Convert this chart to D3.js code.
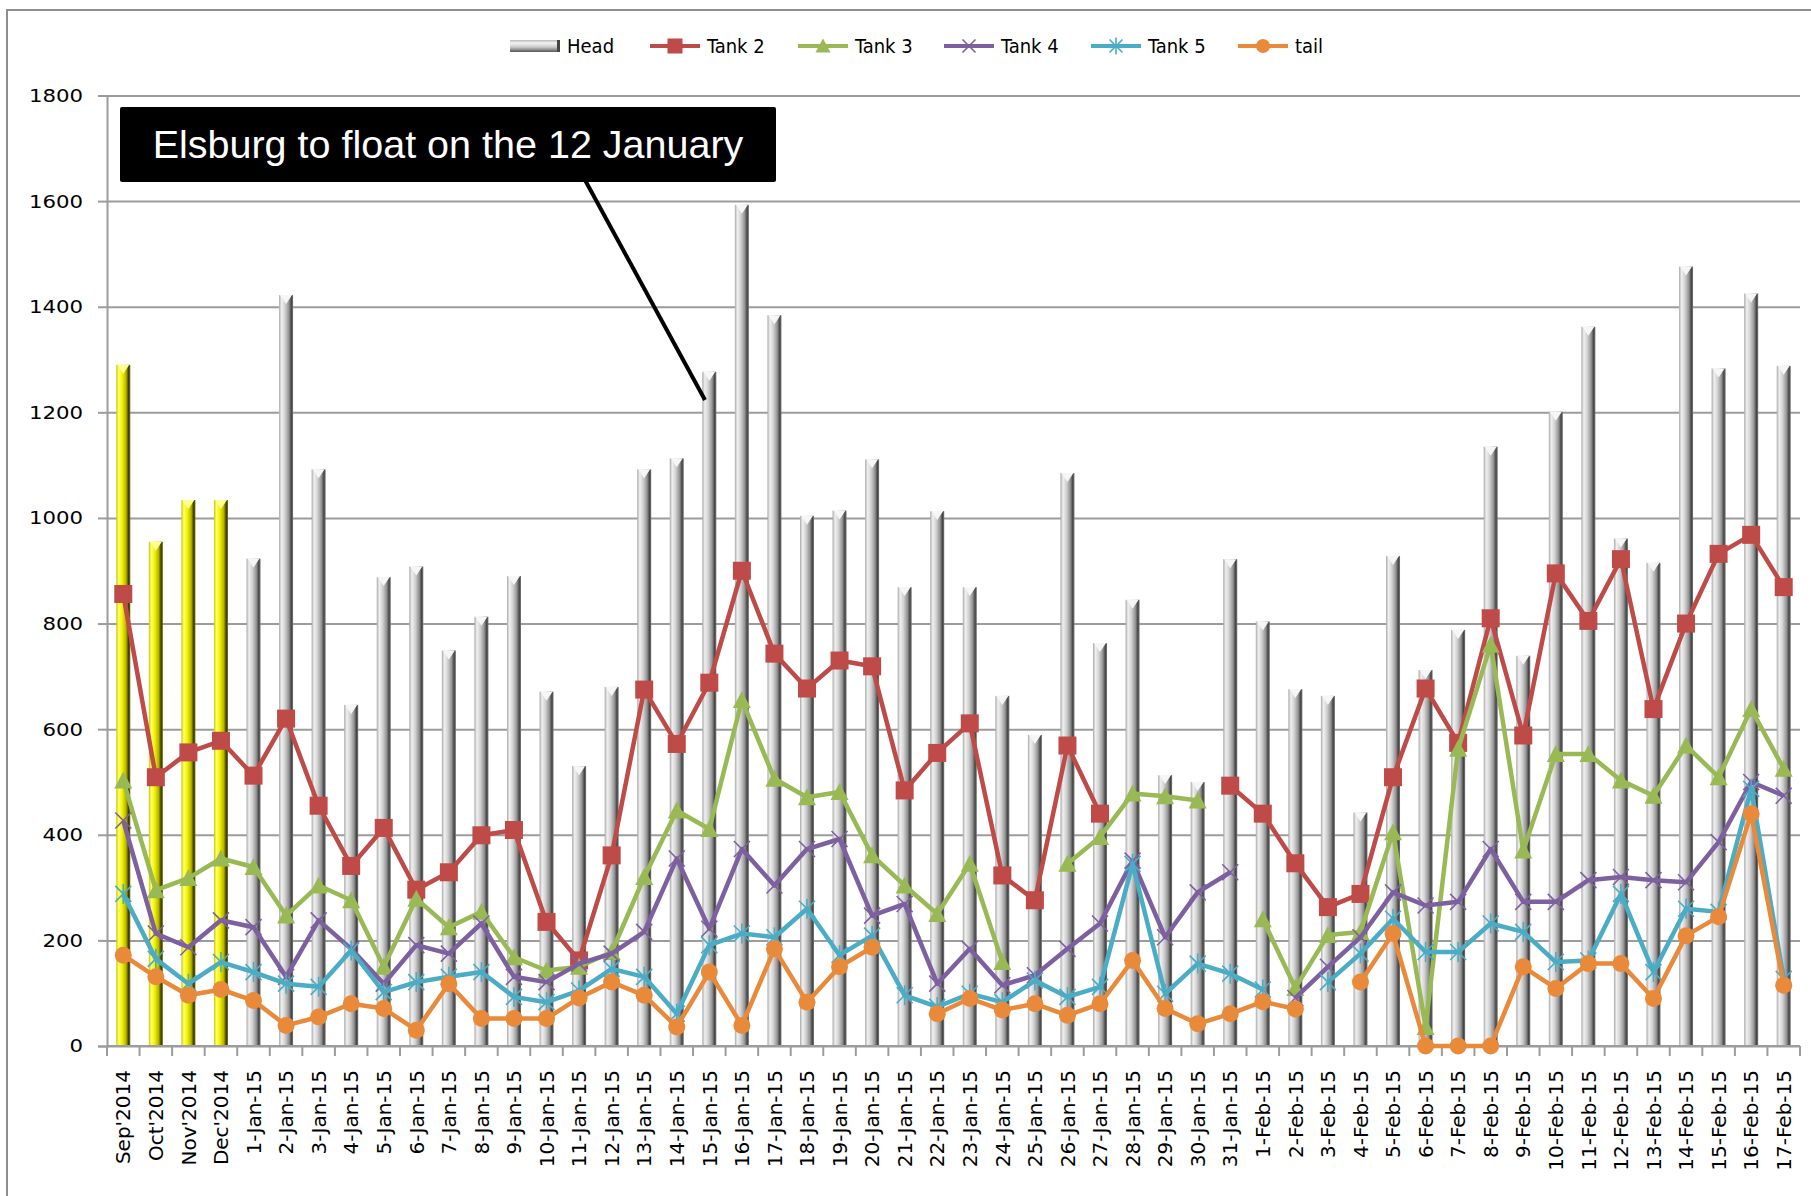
<!DOCTYPE html>
<html>
<head>
<meta charset="utf-8">
<script src="https://cdn.jsdelivr.net/npm/d3@7/dist/d3.min.js"></script>
<style>
  body { margin: 0; background: #fff; }
  svg { display: block; }
</style>
</head>
<body>
<div id="chart"></div>
<script>
/* ---------------------------------------------------- +/

## Tank levels ##

Head bars with the tank lines on top, Sep 2014 - Feb 2015

/+ ---------------------------------------------------- */

var categories = [
    "Sep'2014", "Oct'2014", "Nov'2014", "Dec'2014",
    "1-Jan-15", "2-Jan-15", "3-Jan-15", "4-Jan-15", "5-Jan-15", "6-Jan-15", "7-Jan-15", "8-Jan-15",
    "9-Jan-15", "10-Jan-15", "11-Jan-15", "12-Jan-15", "13-Jan-15", "14-Jan-15", "15-Jan-15", "16-Jan-15",
    "17-Jan-15", "18-Jan-15", "19-Jan-15", "20-Jan-15", "21-Jan-15", "22-Jan-15", "23-Jan-15", "24-Jan-15",
    "25-Jan-15", "26-Jan-15", "27-Jan-15", "28-Jan-15", "29-Jan-15", "30-Jan-15", "31-Jan-15",
    "1-Feb-15", "2-Feb-15", "3-Feb-15", "4-Feb-15", "5-Feb-15", "6-Feb-15", "7-Feb-15", "8-Feb-15",
    "9-Feb-15", "10-Feb-15", "11-Feb-15", "12-Feb-15", "13-Feb-15", "14-Feb-15", "15-Feb-15", "16-Feb-15",
    "17-Feb-15"
];

var head = [
    1290, 955, 1034, 1034,
    923, 1422, 1092, 646, 888, 908, 749, 813, 890, 671, 530, 680, 1092, 1113, 1277, 1593,
    1384, 1004, 1014, 1111, 869, 1013, 869, 663, 589, 1085, 763, 845, 513, 500, 922,
    804, 676, 663, 442, 928, 712, 788, 1135, 739, 1201, 1362, 961, 915, 1476, 1283, 1425, 1288
];

var tank2 = [
    856, 509, 556, 578,
    512, 620, 455, 341, 413, 296, 329, 399, 409, 235, 162, 361, 675, 572, 688, 900,
    743, 677, 730, 719, 484, 555, 611, 323, 276, 569, 440, null, null, null, 493,
    440, 346, 263, 288, 509, 677, 574, 810, 588, 895, 805, 922, 638, 800, 932, 968, 869
];

var tank3 = [
    503, 295, 318, 355,
    339, 247, 304, 276, 150, 279, 225, 254, 168, 143, 150, 178, 320, 446, 411, 655,
    506, 471, 481, 361, 304, 250, 345, 159, null, 345, 396, 478, 473, 465, null,
    240, 110, 210, 216, 405, 36, 563, 760, 370, 553, 553, 503, 474, 569, 509, 638, 525
];

var tank4 = [
    427, 213, 187, 238,
    225, 131, 238, 184, 118, 191, 175, 232, 131, 121, 156, 175, 216, 355, 222, 373,
    304, 373, 392, 247, 269, 118, 184, 115, 134, 184, 232, 351, 206, 291, 329,
    null, 91, 150, 206, 291, 266, 273, 373, 273, 273, 314, 320, 314, 310, 386, 500, 474
];

var tank5 = [
    288, 165, 118, 159,
    140, 118, 112, 181, 102, 121, 131, 140, 93, 83, 105, 146, 131, 61, 191, 213,
    206, 260, 172, 209, 96, 74, 99, 83, 124, 93, 112, 345, 99, 156, 137,
    107, null, 121, 175, 241, 178, 178, 232, 216, 159, 162, 288, 140, 260, 254, 487, 127
];

var tail = [
    172, 131, 96, 107,
    86, 39, 55, 80, 71, 30, 118, 52, 52, 52, 91, 121, 96, 36, 140, 39,
    184, 83, 150, 187, null, 61, 90, 68, 80, 58, 80, 162, 71, 42, 61,
    84, 70, null, 121, 213, 0, 0, 0, 150, 109, 156, 156, 90, 209, 245, 440, 115
];

var yTicks = [0, 200, 400, 600, 800, 1000, 1200, 1400, 1600, 1800];

var noteText = "Elsburg to float on the 12 January";

/**
 * Setup drawing area
 */
var width = 1811;
var height = 1196;
var plot = { left: 107, right: 1800, top: 95.5, bottom: 1046 };
var gridColor = "#9c9c9c";

var svg = d3.select("#chart").append("svg")
    .attr("width", width)
    .attr("height", height);

svg.append("rect")
    .attr("width", width)
    .attr("height", height)
    .attr("fill", "#fff");

// Chart border, only top and left edges show in the picture
svg.append("path")
    .attr("d", "M7," + height + "V10H" + width)
    .attr("fill", "none")
    .attr("stroke", "#8e8e8e")
    .attr("stroke-width", 2);

var x = d3.scaleBand()
    .domain(categories)
    .range([plot.left, plot.right]);

var y = d3.scaleLinear()
    .domain([0, 1800])
    .range([plot.bottom, plot.top]);

function cx(d, i) {
    return x(categories[i]) + x.bandwidth() / 2;
}

/**
 * Gradients for the cylinder bars
 */
var defs = svg.append("defs");

function cylinder(id, stops) {
    var g = defs.append("linearGradient")
        .attr("id", id)
        .attr("x1", 0).attr("x2", 1)
        .attr("y1", 0).attr("y2", 0);
    stops.forEach(function(s) {
        g.append("stop").attr("offset", s[0]).attr("stop-color", s[1]);
    });
}

cylinder("cylGray", [
    [0, "#a8a8a8"], [0.18, "#f0f0f0"], [0.42, "#d2d2d2"],
    [0.7, "#949494"], [0.88, "#444"], [1, "#777"]
]);
cylinder("cylYellow", [
    [0, "#c9c900"], [0.18, "#ffff70"], [0.42, "#f2f200"],
    [0.7, "#b5b500"], [0.88, "#3a3a00"], [1, "#6e6e00"]
]);

var legendBar = defs.append("linearGradient")
    .attr("id", "cylFlat")
    .attr("x1", 0).attr("x2", 0)
    .attr("y1", 0).attr("y2", 1);
[[0, "#b8b8b8"], [0.25, "#f4f4f4"], [0.6, "#c8c8c8"], [1, "#555"]].forEach(function(s) {
    legendBar.append("stop").attr("offset", s[0]).attr("stop-color", s[1]);
});

/**
 * Gridlines and axes
 */
svg.append("g")
    .attr("transform", "translate(" + plot.left + ",0)")
    .call(d3.axisLeft(y).tickValues(yTicks).tickSize(-(plot.right - plot.left)).tickFormat(""))
    .call(function(g) {
        g.select(".domain").remove();
        g.selectAll("line").attr("stroke", gridColor).attr("stroke-width", 2);
    });

var yAxis = svg.append("g")
    .attr("transform", "translate(" + plot.left + ",0)")
    .call(d3.axisLeft(y).tickValues(yTicks).tickFormat(d3.format("d")).tickSize(9).tickPadding(15));

yAxis.select(".domain").attr("stroke", gridColor).attr("stroke-width", 2);
yAxis.selectAll("line").attr("stroke", gridColor).attr("stroke-width", 2);
yAxis.selectAll("text")
    .attr("fill", "#000")
    .style("font-family", "'DejaVu Sans', Verdana, sans-serif")
    .style("font-size", "18.5px")
    .attr("transform", function() {
        // the original picture is a bit wider than it is tall
        var tx = +d3.select(this).attr("x");
        return "translate(" + tx + ",0) scale(1.15,1) translate(" + (-tx) + ",0)";
    });

// x axis: labels from the axis, Excel style ticks between categories
var xAxis = svg.append("g")
    .attr("transform", "translate(0," + plot.bottom + ")")
    .call(d3.axisBottom(x).tickSize(0));

xAxis.select(".domain").remove();
xAxis.selectAll("text")
    .attr("fill", "#000")
    .style("font-family", "'DejaVu Sans', Verdana, sans-serif")
    .style("font-size", "20px")
    .attr("text-anchor", "end")
    .attr("transform", "translate(0,24) rotate(-90)")
    .attr("x", 0)
    .attr("y", 0)
    .attr("dy", "0.36em");

var tickX = categories.map(function(c) { return x(c); }).concat([plot.right]);
svg.append("g").selectAll("line")
    .data(tickX)
    .join("line")
    .attr("x1", function(d) { return d; })
    .attr("x2", function(d) { return d; })
    .attr("y1", plot.bottom)
    .attr("y2", plot.bottom + 10)
    .attr("stroke", gridColor)
    .attr("stroke-width", 2);

/**
 * Head bars, drawn as thin cylinders
 */
var barW = 14;
var bars = svg.append("g").attr("class", "head-bars");

function isMonth(i) {
    return categories[i].indexOf("'") >= 0;
}

bars.selectAll("rect")
    .data(head)
    .join("rect")
    .attr("x", function(d, i) { return cx(d, i) - barW / 2; })
    .attr("y", function(d) { return y(d); })
    .attr("width", barW)
    .attr("height", function(d) { return plot.bottom - y(d); })
    .attr("fill", function(d, i) { return isMonth(i) ? "url(#cylYellow)" : "url(#cylGray)"; });

// Lit top of each cylinder
bars.selectAll("path")
    .data(head)
    .join("path")
    .attr("d", function(d, i) {
        var c = cx(d, i), t = y(d);
        return "M" + (c - barW / 2 + 1) + "," + t + "L" + (c + barW / 2 - 1) + "," + t + "L" + c + "," + (t + 9) + "Z";
    })
    .attr("fill", function(d, i) { return isMonth(i) ? "#ffff90" : "#f6f6f6"; });

// X axis line above the bar bottoms
svg.append("line")
    .attr("x1", plot.left).attr("x2", plot.right)
    .attr("y1", plot.bottom).attr("y2", plot.bottom)
    .attr("stroke", gridColor)
    .attr("stroke-width", 2);

/**
 * Line series
 */
var series = [
    { name: "Tank 2", values: tank2, color: "#be4b48", marker: "square" },
    { name: "Tank 3", values: tank3, color: "#98b954", marker: "triangle" },
    { name: "Tank 4", values: tank4, color: "#7d60a0", marker: "x" },
    { name: "Tank 5", values: tank5, color: "#4aacc5", marker: "star" },
    { name: "tail", values: tail, color: "#e98a3b", marker: "circle" }
];

function drawMarker(g, type, color, px, py, s) {
    if (type === "square") {
        g.append("rect")
            .attr("x", px - s / 2).attr("y", py - s / 2)
            .attr("width", s).attr("height", s)
            .attr("fill", color);
    } else if (type === "triangle") {
        g.append("path")
            .attr("d", "M" + px + "," + (py - s / 2) + "L" + (px + s / 2) + "," + (py + s / 2 - 1) +
                "L" + (px - s / 2) + "," + (py + s / 2 - 1) + "Z")
            .attr("fill", color);
    } else if (type === "circle") {
        g.append("circle")
            .attr("cx", px).attr("cy", py).attr("r", s / 2)
            .attr("fill", color);
    } else {
        var h = s / 2;
        var d = "M" + (px - h) + "," + (py - h) + "L" + (px + h) + "," + (py + h) +
            "M" + (px + h) + "," + (py - h) + "L" + (px - h) + "," + (py + h);
        if (type === "star") {
            d += "M" + px + "," + (py - h - 2) + "L" + px + "," + (py + h + 2);
        }
        g.append("path")
            .attr("d", d)
            .attr("fill", "none")
            .attr("stroke", color)
            .attr("stroke-width", 1.6);
    }
}

var markerSize = { square: 18, triangle: 18, x: 16, star: 16, circle: 17 };

var line = d3.line()
    .defined(function(d) { return d != null; })
    .x(function(d, i) { return cx(d, i); })
    .y(function(d) { return y(d); });

series.forEach(function(s) {
    var g = svg.append("g").attr("class", "series");
    g.append("path")
        .datum(s.values)
        .attr("d", line)
        .attr("fill", "none")
        .attr("stroke", s.color)
        .attr("stroke-width", 4.5)
        .attr("stroke-linejoin", "round");
    s.values.forEach(function(v, i) {
        if (v == null) return;
        drawMarker(g, s.marker, s.color, cx(v, i), y(v), markerSize[s.marker]);
    });
});

/**
 * Legend
 */
var legend = svg.append("g").attr("class", "legend");
var legendFont = "'DejaVu Sans Condensed', 'DejaVu Sans', sans-serif";
var legendItems = [
    { name: "Head", x: 510 },
    { name: "Tank 2", x: 650 },
    { name: "Tank 3", x: 798 },
    { name: "Tank 4", x: 944 },
    { name: "Tank 5", x: 1091 },
    { name: "tail", x: 1238 }
];

legendItems.forEach(function(item) {
    var ly = 46;
    if (item.name === "Head") {
        legend.append("rect")
            .attr("x", item.x).attr("y", ly - 6)
            .attr("width", 50).attr("height", 12)
            .attr("fill", "url(#cylFlat)");
        legend.append("rect")
            .attr("x", item.x + 47).attr("y", ly - 6)
            .attr("width", 3).attr("height", 12)
            .attr("fill", "#444");
    } else {
        var s = series.filter(function(d) { return d.name === item.name; })[0];
        legend.append("line")
            .attr("x1", item.x).attr("x2", item.x + 50)
            .attr("y1", ly).attr("y2", ly)
            .attr("stroke", s.color)
            .attr("stroke-width", 4);
        drawMarker(legend, s.marker, s.color, item.x + 25, ly, markerSize[s.marker] - 3);
    }
    legend.append("text")
        .attr("x", item.x + 57)
        .attr("y", ly)
        .attr("dy", "0.36em")
        .style("font-family", legendFont)
        .style("font-stretch", "condensed")
        .style("font-size", "20px")
        .attr("fill", "#000")
        .text(item.name);
});

/**
 * Callout
 */
svg.append("line")
    .attr("x1", 585).attr("y1", 180)
    .attr("x2", 705).attr("y2", 400)
    .attr("stroke", "#000")
    .attr("stroke-width", 4);

svg.append("rect")
    .attr("x", 120).attr("y", 107)
    .attr("width", 656).attr("height", 75)
    .attr("rx", 2)
    .attr("fill", "#000");

svg.append("text")
    .attr("x", 448)
    .attr("y", 158)
    .attr("text-anchor", "middle")
    .style("font-family", "'Liberation Sans', Arial, sans-serif")
    .style("font-size", "39.5px")
    .attr("fill", "#fff")
    .text(noteText);
</script>
</body>
</html>
